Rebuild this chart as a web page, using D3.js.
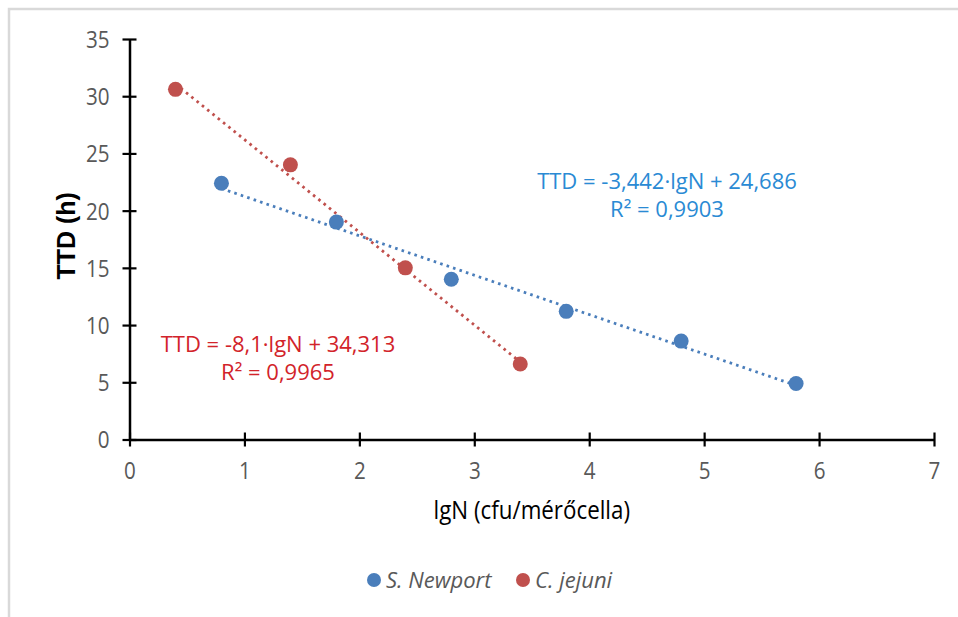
<!DOCTYPE html>
<html>
<head>
<meta charset="utf-8">
<script src="https://cdn.jsdelivr.net/npm/d3@7"></script>
<style>
  html, body { margin: 0; padding: 0; background: #fff; }
  svg { display: block; }
</style>
</head>
<body>
<svg id="chart" width="958" height="617"></svg>
<script>
// ---- data ----
const newportX = [0.8, 1.8, 2.8, 3.8, 4.8, 5.8];
const newportY = [22.4, 19.0, 14.0, 11.2, 8.6, 4.9];
const jejuniX = [0.4, 1.4, 2.4, 3.4];
const jejuniY = [30.6, 24.0, 15.0, 6.6];
const seriesNames = ["S. Newport", "C. jejuni"];
const trendSlopes = [-3.442, -8.1];
const trendIntercepts = [24.686, 34.313];
const equationLines = [
  ["TTD = -3,442·lgN + 24,686", "R² = 0,9903"],
  ["TTD = -8,1·lgN + 34,313", "R² = 0,9965"]
];
const xTicks = [0, 1, 2, 3, 4, 5, 6, 7];
const yTicks = [0, 5, 10, 15, 20, 25, 30, 35];
const xTitle = "lgN (cfu/mérőcella)";
const yTitle = "TTD (h)";

// ---- styles ----
const colors = ["#4a7ebb", "#c0504d"];
const eqColors = ["#2a8ad4", "#d2232a"];
const font = "'Open Sans', 'Noto Sans', sans-serif";
const tickGray = "#595959";
const squeeze = 0.86;

const svg = d3.select("#chart");

// chart frame
svg.append("rect")
  .attr("x", 9).attr("y", 9).attr("width", 1000).attr("height", 700)
  .attr("fill", "none").attr("stroke", "#d9d9d9").attr("stroke-width", 2.5);

const x = d3.scaleLinear().domain([0, 7]).range([129.5, 934]);
const y = d3.scaleLinear().domain([0, 35]).range([439.5, 39]);

// axes
const yAxis = svg.append("g").attr("transform", `translate(${x(0)},0)`)
  .call(d3.axisLeft(y).tickValues(yTicks).tickFormat(d3.format("d")).tickSize(7).tickPadding(13).tickSizeOuter(0));
yAxis.selectAll(".tick line").attr("x1", 7);
yAxis.selectAll(".tick text").attr("x", -20 / squeeze).attr("dy", "0.35em");
const xAxis = svg.append("g").attr("transform", `translate(0,${y(0)})`)
  .call(d3.axisBottom(x).tickValues(xTicks).tickFormat(d3.format("d")).tickSize(7).tickPadding(15).tickSizeOuter(0));
xAxis.selectAll(".tick line").attr("y1", -7);

[yAxis, xAxis].forEach(g => {
  g.select(".domain").attr("stroke", "#000").attr("stroke-width", 2.5);
  g.selectAll(".tick line").attr("stroke", "#000").attr("stroke-width", 2.2);
  g.selectAll(".tick text").attr("fill", tickGray)
    .style("font-family", font).style("font-size", "24px")
    .attr("transform", `scale(${squeeze},1)`);
});

// axis titles
svg.append("text")
  .attr("transform", `translate(${x(3.5)},519) scale(${squeeze},1)`)
  .attr("text-anchor", "middle")
  .style("font-family", font).style("font-size", "26px").attr("fill", "#000")
  .text(xTitle);
svg.append("text")
  .attr("transform", `translate(75,${y(17.8)}) rotate(-90)`)
  .attr("text-anchor", "middle")
  .style("font-family", "'Liberation Sans', Arial, sans-serif").style("font-weight", "bold")
  .style("font-size", "25px").attr("fill", "#000")
  .text(yTitle);

// series
const seriesData = [
  newportX.map((v, i) => ({ x: v, y: newportY[i] })),
  jejuniX.map((v, i) => ({ x: v, y: jejuniY[i] }))
];

// trendlines
seriesData.forEach((pts, s) => {
  const xs = d3.extent(pts, d => d.x);
  const line = xs.map(v => ({ x: v, y: trendSlopes[s] * v + trendIntercepts[s] }));
  svg.append("path")
    .datum(line)
    .attr("d", d3.line().x(d => x(d.x)).y(d => y(d.y)))
    .attr("fill", "none")
    .attr("stroke", colors[s])
    .attr("stroke-width", 2.8)
    .attr("stroke-dasharray", "2.6,4.2");
});

// markers
seriesData.forEach((pts, s) => {
  svg.append("g").selectAll("circle").data(pts).join("circle")
    .attr("cx", d => x(d.x)).attr("cy", d => y(d.y)).attr("r", 7.5)
    .attr("fill", colors[s]);
});

// equations (one text block per series)
const eqPos = [[667, 189], [278, 352]];
equationLines.forEach((lines, s) => {
  const t = svg.append("text")
    .attr("text-anchor", "middle")
    .style("font-family", font).style("font-size", "22px")
    .attr("fill", eqColors[s]);
  lines.forEach((l, i) => {
    t.append("tspan").attr("x", eqPos[s][0]).attr("y", eqPos[s][1] + i * 28).text(l);
  });
});

// legend
const legX = [374, 523];
seriesNames.forEach((n, s) => {
  svg.append("circle").attr("cx", legX[s]).attr("cy", 580).attr("r", 7).attr("fill", colors[s]);
  svg.append("text")
    .attr("transform", `translate(${legX[s] + 12},588)`)
    .style("font-family", font).style("font-size", "22px").style("font-style", "italic")
    .attr("fill", tickGray).text(n);
});
</script>
</body>
</html>
